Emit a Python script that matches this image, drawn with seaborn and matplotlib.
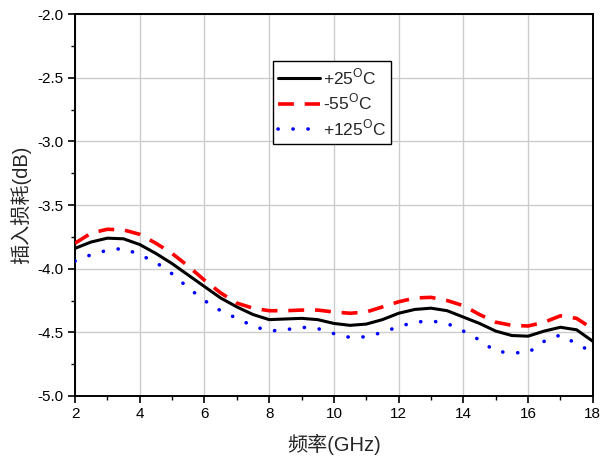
import numpy as np
import pandas as pd
import matplotlib
matplotlib.use("Agg")
import matplotlib.pyplot as plt
import seaborn as sns
from matplotlib.ticker import MultipleLocator, FormatStrFormatter

# Frequency points (GHz)
freq = [2, 2.5, 3, 3.5, 4, 4.5, 5, 5.5, 6, 6.5, 7, 7.5, 8, 8.5, 9, 9.5,
        10, 10.5, 11, 11.5, 12, 12.5, 13, 13.5, 14, 14.5, 15, 15.5, 16,
        16.5, 17, 17.5, 18]
freq_end = freq[:-1] + [17.8]

# Insertion loss (dB) at each temperature
loss_25 = [-3.84, -3.79, -3.76, -3.765, -3.81, -3.88, -3.96, -4.05, -4.14,
           -4.23, -4.30, -4.36, -4.40, -4.395, -4.39, -4.40, -4.43, -4.445,
           -4.435, -4.40, -4.35, -4.32, -4.31, -4.33, -4.38, -4.43, -4.49,
           -4.525, -4.53, -4.49, -4.46, -4.48, -4.57]
loss_m55 = [-3.80, -3.72, -3.69, -3.695, -3.73, -3.80, -3.88, -3.98, -4.09,
            -4.19, -4.27, -4.31, -4.33, -4.33, -4.325, -4.325, -4.34, -4.35,
            -4.34, -4.30, -4.26, -4.23, -4.225, -4.25, -4.29, -4.36, -4.42,
            -4.445, -4.45, -4.42, -4.37, -4.39, -4.44]
loss_125 = [-3.94, -3.89, -3.855, -3.84, -3.89, -3.95, -4.04, -4.15, -4.25,
            -4.33, -4.39, -4.45, -4.49, -4.48, -4.46, -4.47, -4.51, -4.54,
            -4.535, -4.50, -4.455, -4.42, -4.41, -4.43, -4.49, -4.56, -4.65,
            -4.66, -4.66, -4.57, -4.52, -4.59, -4.63]

labels = ["+25$^\\mathregular{O}$C", "-55$^\\mathregular{O}$C",
          "+125$^\\mathregular{O}$C"]

sns.set_theme(style="ticks")
plt.rcParams["font.family"] = ["Liberation Sans", "Noto Sans CJK SC", "DejaVu Sans"]
plt.rcParams["axes.unicode_minus"] = False

fig = plt.figure(figsize=(6.0, 4.57), dpi=100)
ax = fig.add_axes([0.125, 0.1335, 0.863, 0.8355])

df25 = pd.DataFrame({"f": freq, "v": loss_25})
dfm55 = pd.DataFrame({"f": freq_end, "v": loss_m55})
df125 = pd.DataFrame({"f": freq_end, "v": loss_125})

sns.lineplot(data=df25, x="f", y="v", ax=ax, color="black", lw=2.2,
             label=labels[0], zorder=4)
sns.lineplot(data=dfm55, x="f", y="v", ax=ax, color="#ff0000", lw=2.6,
             label=labels[1], zorder=4)
sns.lineplot(data=df125, x="f", y="v", ax=ax, color="#0000ff", lw=2.6,
             label=labels[2], zorder=4)

lines = ax.get_lines()
lines[1].set_dashes([4.4, 3.0])
lines[2].set_dashes([0.05, 4.1])
lines[2].set_dash_capstyle("round")

ax.set_xlim(2, 18)
ax.set_ylim(-5.0, -2.0)
ax.xaxis.set_major_locator(MultipleLocator(2))
ax.xaxis.set_minor_locator(MultipleLocator(1))
ax.yaxis.set_major_locator(MultipleLocator(0.5))
ax.yaxis.set_minor_locator(MultipleLocator(0.25))
ax.yaxis.set_major_formatter(FormatStrFormatter("%.1f"))

ax.grid(True, which="major", color="#cccccc", lw=1.0, zorder=0)
for s in ax.spines.values():
    s.set_color("black")
    s.set_linewidth(1.4)
ax.tick_params(which="major", direction="out", length=5, width=1.2,
               labelsize=11, colors="black", pad=3)
ax.tick_params(which="minor", direction="out", length=3, width=1.0,
               colors="black")

ax.set_xlabel("频率(GHz)", fontsize=14.5, labelpad=9)
ax.set_ylabel("插入损耗(dB)", fontsize=14.5, labelpad=5)

leg = ax.legend(loc="upper left", bbox_to_anchor=(0.382, 0.877),
                fontsize=12.5, frameon=True, fancybox=False, framealpha=1,
                edgecolor="black", handlelength=2.4, handletextpad=0.2,
                borderpad=0.3, labelspacing=0.3, borderaxespad=0)
leg.get_frame().set_linewidth(1.0)

fig.savefig("out.png", dpi=100)
